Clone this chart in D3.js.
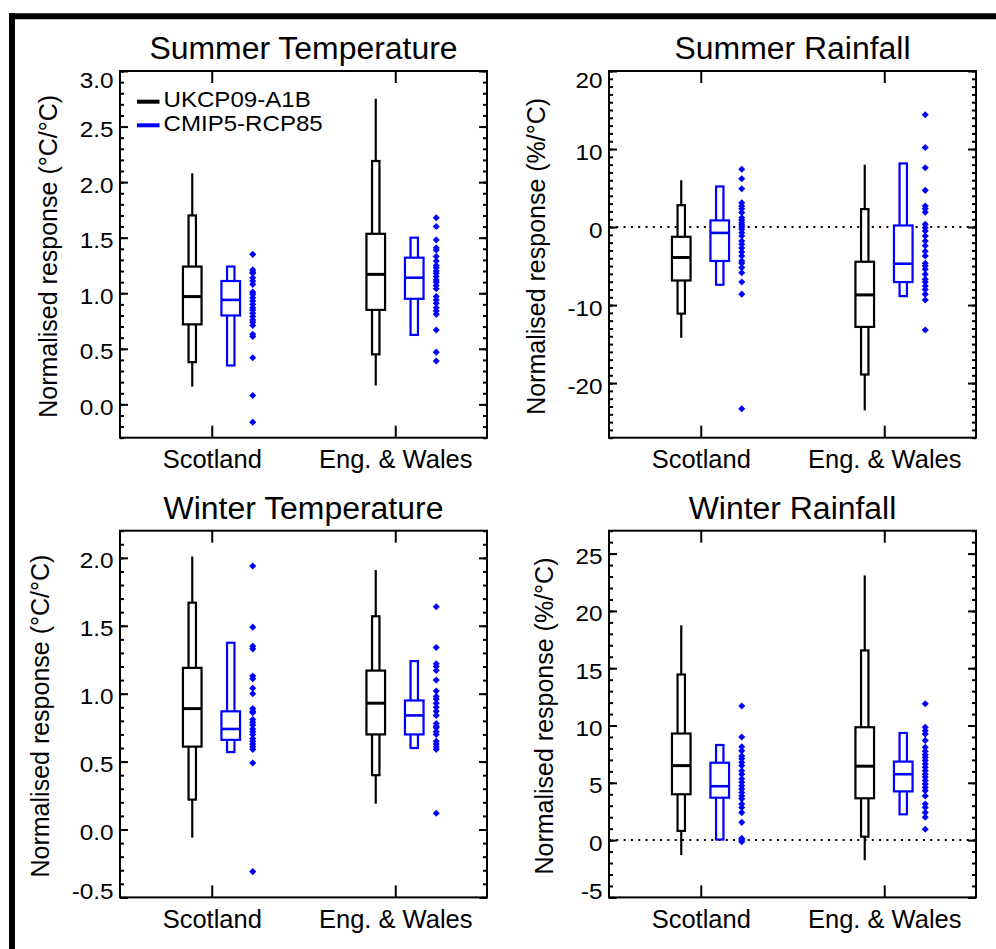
<!DOCTYPE html>
<html>
<head>
<meta charset="utf-8">
<script src="https://cdn.jsdelivr.net/npm/d3@7"></script>
<style>
  body { margin: 0; background: #fff; }
  svg { display: block; }
  text { font-family: 'Liberation Sans', Arial, Helvetica, sans-serif; fill: #000; }
</style>
</head>
<body>
<svg width="996" height="949"></svg>
<script>
const regions = ['Scotland', 'Eng. & Wales']
const seriesNames = ['UKCP09-A1B', 'CMIP5-RCP85']

// UKCP09 boxes, one per region: [min, p5, p25, median, p75, p95, max]
// CMIP5 boxes, one per region: [p10, p25, median, p75, p90]
const summerTempUkcp = [[0.16, 0.38, 0.72, 0.97, 1.24, 1.70, 2.08], [0.17, 0.45, 0.85, 1.17, 1.535, 2.19, 2.75]]
const summerTempCmip = [[0.35, 0.80, 0.94, 1.11, 1.24], [0.625, 0.95, 1.14, 1.32, 1.50]]
const summerTempModels = [
    [1.35, 1.21, 1.19, 1.18, 1.14, 1.11, 1.08, 1.01, 0.99, 0.96, 0.93, 0.90, 0.87, 0.85, 0.82, 0.79, 0.76, 0.74, 0.71, 0.63, 0.61, 0.42, 0.08, -0.16],
    [1.68, 1.60, 1.48, 1.41, 1.39, 1.33, 1.29, 1.25, 1.23, 1.20, 1.18, 1.15, 1.12, 1.10, 1.07, 1.04, 0.97, 0.94, 0.91, 0.87, 0.84, 0.81, 0.67, 0.47, 0.39]
]
const summerTempTicks = [0, 0.5, 1.0, 1.5, 2.0, 2.5, 3.0]

const summerRainUkcp = [[-14.2, -11.1, -6.85, -3.9, -1.25, 2.8, 6.0], [-23.5, -18.9, -12.8, -8.7, -4.45, 2.3, 8.0]]
const summerRainCmip = [[-7.4, -4.35, -0.75, 0.85, 5.2], [-8.85, -7.05, -4.7, 0.2, 8.15]]
const summerRainModels = [
    [7.4, 6.2, 4.9, 3.1, 2.7, 2.35, 1.85, 1.2, 0.86, 0.56, 0.26, 0.0, -0.29, -0.72, -1.15, -1.8, -2.2, -2.7, -3.2, -3.7, -4.35, -4.65, -5.2, -5.85, -7.05, -8.6, -23.3],
    [14.4, 10.2, 7.6, 4.7, 2.7, 2.35, 1.9, 0.35, -0.08, -0.5, -1.15, -1.8, -2.4, -3.1, -3.7, -4.65, -5.0, -5.4, -6.05, -6.7, -7.05, -7.55, -8.0, -8.6, -9.35, -13.2]
]
const summerRainTicks = [-20, -10, 0, 10, 20]

const winterTempUkcp = [[-0.06, 0.22, 0.61, 0.89, 1.19, 1.67, 2.01], [0.19, 0.40, 0.70, 0.93, 1.17, 1.57, 1.91]]
const winterTempCmip = [[0.57, 0.66, 0.74, 0.87, 1.375], [0.60, 0.70, 0.84, 0.95, 1.24]]
const winterTempModels = [
    [1.94, 1.49, 1.35, 1.33, 1.13, 1.11, 1.04, 1.0, 0.89, 0.87, 0.86, 0.81, 0.79, 0.77, 0.74, 0.72, 0.70, 0.67, 0.65, 0.63, 0.61, 0.59, 0.49, -0.31],
    [1.64, 1.34, 1.22, 1.20, 1.17, 1.10, 1.02, 0.98, 0.96, 0.93, 0.90, 0.87, 0.84, 0.78, 0.76, 0.75, 0.72, 0.70, 0.65, 0.63, 0.61, 0.59, 0.12]
]
const winterTempTicks = [-0.5, 0, 0.5, 1.0, 1.5, 2.0]

const winterRainUkcp = [[-1.3, 0.8, 4.0, 6.5, 9.3, 14.45, 18.75], [-1.75, 0.3, 3.65, 6.45, 9.85, 16.55, 23.1]]
const winterRainCmip = [[0.05, 3.7, 4.7, 6.75, 8.3], [2.25, 4.25, 5.75, 6.85, 9.35]]
const winterRainModels = [
    [11.7, 9.0, 8.15, 7.8, 7.35, 7.1, 6.8, 6.5, 6.05, 5.75, 5.35, 5.05, 4.75, 4.45, 4.15, 3.85, 3.6, 3.15, 2.85, 2.4, 1.55, 0.15, 0.0, -0.15],
    [11.9, 9.85, 9.55, 9.25, 8.7, 8.1, 7.75, 7.45, 7.2, 6.95, 6.65, 6.35, 6.05, 5.75, 5.5, 5.2, 4.9, 4.6, 4.3, 3.85, 3.15, 2.85, 2.4, 2.0, 0.95]
]
const winterRainTicks = [-5, 0, 5, 10, 15, 20, 25]

const panels = [
    { title: 'Summer Temperature', unit: '(°C/°C)', domain: [-0.3, 3.0], ticks: summerTempTicks, minor: 0.1, digits: 1,
      ukcp: summerTempUkcp, cmip: summerTempCmip, models: summerTempModels, zero: false, legend: true },
    { title: 'Summer Rainfall', unit: '(%/°C)', domain: [-27, 20], ticks: summerRainTicks, minor: 1, digits: 0,
      ukcp: summerRainUkcp, cmip: summerRainCmip, models: summerRainModels, zero: true, legend: false },
    { title: 'Winter Temperature', unit: '(°C/°C)', domain: [-0.5, 2.2], ticks: winterTempTicks, minor: 0.1, digits: 1,
      ukcp: winterTempUkcp, cmip: winterTempCmip, models: winterTempModels, zero: false, legend: false },
    { title: 'Winter Rainfall', unit: '(%/°C)', domain: [-5, 27], ticks: winterRainTicks, minor: 1, digits: 0,
      ukcp: winterRainUkcp, cmip: winterRainCmip, models: winterRainModels, zero: true, legend: false }
]

// placement of each panel's plot area
const layout = [
    { left: 120, top: 71, labelGap: 63 },
    { left: 609, top: 71, labelGap: 64.5 },
    { left: 120, top: 530.7, labelGap: 71 },
    { left: 609, top: 530.7, labelGap: 56 }
]
const W = 367, H = 366.7
const BLUE = '#0000ff'

const svg = d3.select('svg')
svg.append('rect').attr('width', 996).attr('height', 949).attr('fill', '#fff')

// outer frame (only top and left edges are inside the picture)
svg.append('line').attr('x1', 9).attr('x2', 996).attr('y1', 16.2).attr('y2', 16.2)
    .attr('stroke', '#000').attr('stroke-width', 6)
svg.append('line').attr('x1', 12).attr('x2', 12).attr('y1', 13.2).attr('y2', 949)
    .attr('stroke', '#000').attr('stroke-width', 6)

// the original lettering is a little wider than Liberation Sans
function widen(sel, k) {
    sel.each(function () {
        const len = this.getComputedTextLength()
        d3.select(this).attr('textLength', len * k).attr('lengthAdjust', 'spacingAndGlyphs')
    })
}

panels.forEach((p, i) => drawPanel(p, layout[i]))

function drawPanel(p, L) {
    const g = svg.append('g')
    const bottom = L.top + H
    const x = d3.scalePoint().domain(regions).range([L.left, L.left + W]).padding(0.5)
    const y = d3.scaleLinear().domain(p.domain).range([bottom, L.top])

    const lo = Math.ceil(p.domain[0] / p.minor - 1e-6), hi = Math.floor(p.domain[1] / p.minor + 1e-6)
    const minorTicks = d3.range(lo, hi + 1).map(k => +(k * p.minor).toFixed(3))
    const fmt = v => v.toFixed(p.digits)

    if (p.zero) {
        g.append('line')
            .attr('x1', L.left).attr('x2', L.left + W)
            .attr('y1', y(0)).attr('y2', y(0))
            .attr('stroke', '#000').attr('stroke-width', 2)
            .attr('stroke-dasharray', '2,5.3')
    }

    // minor ticks, left and right
    g.append('g').attr('transform', `translate(${L.left},0)`)
        .call(d3.axisLeft(y).tickValues(minorTicks).tickSize(-4).tickFormat(''))
    g.append('g').attr('transform', `translate(${L.left + W},0)`)
        .call(d3.axisRight(y).tickValues(minorTicks).tickSize(-4).tickFormat(''))

    // major ticks with labels
    const yl = g.append('g').attr('transform', `translate(${L.left},0)`)
        .call(d3.axisLeft(y).tickValues(p.ticks).tickSize(-8).tickPadding(6.5).tickFormat(fmt))
    yl.selectAll('text')
        .attr('font-size', 21.5).attr('dy', null)
        .attr('y', d => {
            const base = y(d) + 10
            return Math.max(L.top + 16, Math.min(bottom + 1.5, base)) - y(d)
        })
        .call(widen, 1.13)
    g.append('g').attr('transform', `translate(${L.left + W},0)`)
        .call(d3.axisRight(y).tickValues(p.ticks).tickSize(-8).tickFormat(''))

    const xb = g.append('g').attr('transform', `translate(0,${bottom})`)
        .call(d3.axisBottom(x).tickSize(-12).tickPadding(12.5))
    xb.selectAll('text').attr('font-size', 25.5)
    g.append('g').attr('transform', `translate(0,${L.top})`)
        .call(d3.axisTop(x).tickSize(-12).tickFormat(''))

    g.selectAll('.domain').remove()
    g.selectAll('.tick line').attr('stroke', '#000').attr('stroke-width', 2)
    g.selectAll('g').attr('font-family', null).attr('font-size', null)

    // plot frame
    g.append('rect')
        .attr('x', L.left).attr('y', L.top).attr('width', W).attr('height', H)
        .attr('fill', 'none').attr('stroke', '#000').attr('stroke-width', 2)

    // UKCP09 boxes
    regions.forEach((r, j) => {
        const [mn, p5, q1, med, q3, p95, mx] = p.ukcp[j]
        const cx = x(r) - 19.5
        const b = g.append('g')
        b.append('line').attr('x1', cx).attr('x2', cx).attr('y1', y(mx)).attr('y2', y(p95))
            .attr('stroke', '#000').attr('stroke-width', 2.2)
        b.append('line').attr('x1', cx).attr('x2', cx).attr('y1', y(p5)).attr('y2', y(mn))
            .attr('stroke', '#000').attr('stroke-width', 2.2)
        b.append('rect').attr('x', cx - 3.7).attr('width', 7.4)
            .attr('y', y(p95)).attr('height', y(p5) - y(p95))
            .attr('fill', '#fff').attr('stroke', '#000').attr('stroke-width', 2.2)
        b.append('rect').attr('x', cx - 9.3).attr('width', 18.6)
            .attr('y', y(q3)).attr('height', y(q1) - y(q3))
            .attr('fill', '#fff').attr('stroke', '#000').attr('stroke-width', 2.2)
        b.append('line').attr('x1', cx - 9.3).attr('x2', cx + 9.3).attr('y1', y(med)).attr('y2', y(med))
            .attr('stroke', '#000').attr('stroke-width', 3)
    })

    // CMIP5 boxes
    regions.forEach((r, j) => {
        const [p10, q1, med, q3, p90] = p.cmip[j]
        const cx = x(r) + 19
        const b = g.append('g')
        b.append('rect').attr('x', cx - 3.7).attr('width', 7.4)
            .attr('y', y(p90)).attr('height', y(p10) - y(p90))
            .attr('fill', '#fff').attr('stroke', BLUE).attr('stroke-width', 2.2)
        b.append('rect').attr('x', cx - 9.3).attr('width', 18.6)
            .attr('y', y(q3)).attr('height', y(q1) - y(q3))
            .attr('fill', '#fff').attr('stroke', BLUE).attr('stroke-width', 2.2)
        b.append('line').attr('x1', cx - 9.3).attr('x2', cx + 9.3).attr('y1', y(med)).attr('y2', y(med))
            .attr('stroke', BLUE).attr('stroke-width', 2.6)
    })

    // individual CMIP5 models
    const diamond = d3.symbol().type(d3.symbolSquare).size(25)
    regions.forEach((r, j) => {
        g.append('g').selectAll('path')
            .data(p.models[j])
            .enter()
            .append('path')
            .attr('d', diamond)
            .attr('transform', d => `translate(${x(r) + 41},${y(d)}) rotate(45)`)
            .attr('fill', BLUE)
    })

    // titles
    g.append('text')
        .attr('x', L.left + W / 2).attr('y', L.top - 12)
        .attr('text-anchor', 'middle').attr('font-size', 31)
        .text(p.title)
        .call(widen, 1.03)
    g.append('text')
        .attr('transform', `translate(${L.left - L.labelGap},${L.top + H / 2 + 2}) rotate(-90)`)
        .attr('text-anchor', 'middle').attr('font-size', 25)
        .text('Normalised response ' + p.unit)

    if (p.legend) {
        const leg = g.append('g')
        seriesNames.forEach((s, k) => {
            const ly = L.top + 30.7 + k * 23.6
            leg.append('line').attr('x1', L.left + 17).attr('x2', L.left + 39.5)
                .attr('y1', ly).attr('y2', ly)
                .attr('stroke', k === 0 ? '#000' : BLUE).attr('stroke-width', 4)
            leg.append('text').attr('x', L.left + 43.5).attr('y', ly + 5.5)
                .attr('font-size', 21.5)
                .text(s)
                .call(widen, 1.12)
        })
    }
}
</script>
</body>
</html>
